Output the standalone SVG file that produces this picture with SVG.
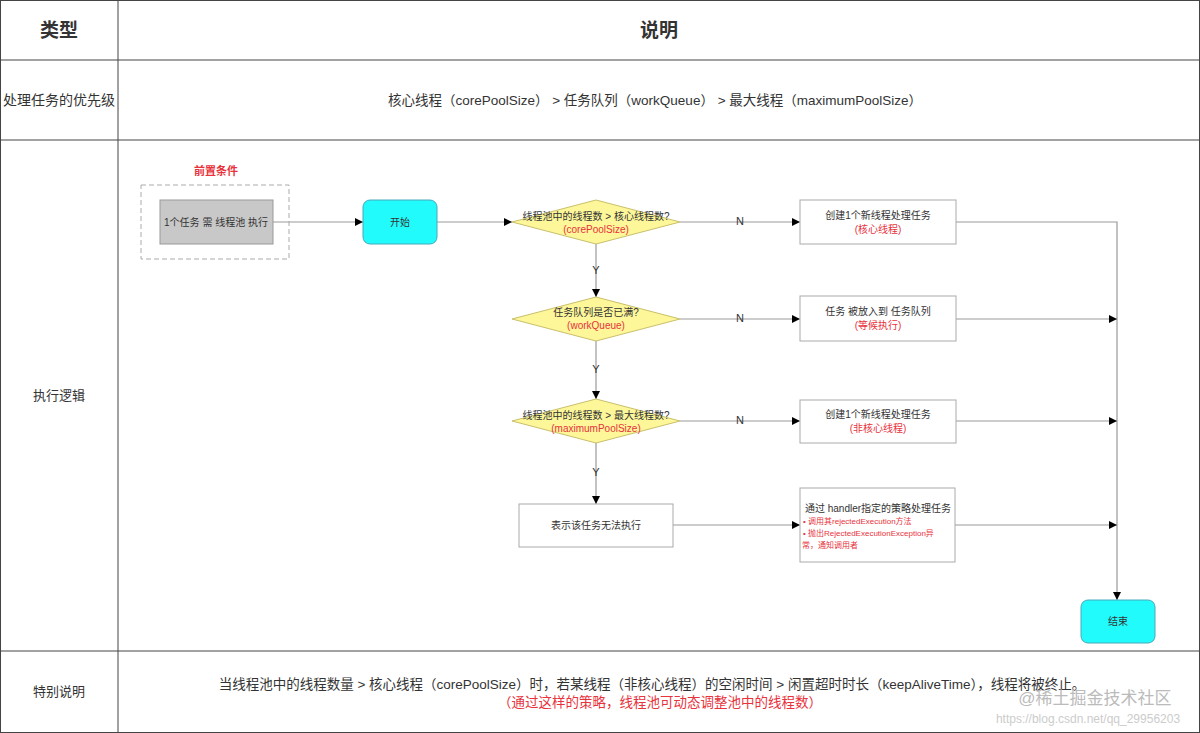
<svg xmlns="http://www.w3.org/2000/svg" width="1200" height="733" viewBox="0 0 1200 733">
<defs>
<marker id="a" viewBox="0 0 10 10" refX="10" refY="5" markerWidth="7" markerHeight="7" orient="auto"><path d="M0,0L10,5L0,10z" fill="#000"/></marker>
<style>
text{font-family:"Liberation Sans","Noto Sans CJK SC",sans-serif;text-anchor:middle;dominant-baseline:central;fill:#333}
.g{stroke:#444;stroke-width:1;fill:none}
.c{stroke:#999;stroke-width:1.2;fill:none;marker-end:url(#a)}
.s{font-size:10px}
.r{fill:#e8323c}
.b{stroke:#aaa;fill:#fff}
.d{fill:#fdf79a;stroke:#c9c06a}
</style>
</defs>
<rect width="1200" height="733" fill="#fff"/>
<g id="table">
<rect x="0.5" y="0.5" width="1199" height="732" class="g"/>
<path d="M0,60H1200M0,140H1200M0,651H1200M118,0V733" class="g"/>
<text x="59" y="30" font-size="19" font-weight="bold">类型</text>
<text x="659" y="30" font-size="19" font-weight="bold">说明</text>
<text x="59" y="100" font-size="14">处理任务的优先级</text>
<text x="655" y="100" font-size="13.5">核心线程（corePoolSize） &gt; 任务队列（workQueue） &gt; 最大线程（maximumPoolSize）</text>
<text x="59" y="395" font-size="13">执行逻辑</text>
<text x="59" y="691" font-size="13">特别说明</text>
<text x="652" y="684" font-size="13.5">当线程池中的线程数量 &gt; 核心线程（corePoolSize）时，若某线程（非核心线程）的空闲时间 &gt; 闲置超时时长（keepAliveTime），线程将被终止。</text>
<text x="660" y="702" font-size="13.5" class="r">（通过这样的策略，线程池可动态调整池中的线程数）</text>
<text x="1095" y="698" font-size="17" style="fill:#bbb">@稀土掘金技术社区</text>
<text x="1088" y="719" font-size="12" style="fill:#ccc">https://blog.csdn.net/qq_29956203</text>
</g>
<g id="connectors">
<path d="M273,222H363" class="c"/>
<path d="M437,222H512" class="c"/>
<path d="M680,222H800" class="c"/>
<path d="M680,319H800" class="c"/>
<path d="M680,421H800" class="c"/>
<path d="M596,244V297" class="c"/>
<path d="M596,341V399" class="c"/>
<path d="M596,443V504" class="c"/>
<path d="M673,525H800" class="c"/>
<path d="M956,222H1117V600" class="c"/>
<path d="M956,319H1117" class="c"/>
<path d="M956,421H1117" class="c"/>
<path d="M955,525H1117" class="c"/>
<g font-size="11"><text x="740" y="221">N</text><text x="740" y="318">N</text><text x="740" y="420">N</text>
<text x="596" y="270">Y</text><text x="596" y="369">Y</text><text x="596" y="472">Y</text></g>
</g>
<g id="pre">
<rect x="141" y="185" width="148" height="74" fill="none" stroke="#aaa" stroke-dasharray="5,3"/>
<text x="216" y="171" font-size="11" font-weight="bold" class="r">前置条件</text>
<rect x="160" y="200" width="113" height="44" fill="#c8c8c8" stroke="#999"/>
<text x="216" y="222" class="s">1个任务 需 线程池 执行</text>
</g>
<g id="start"><rect x="363" y="200" width="74" height="44" rx="7" fill="#22fbfb" stroke="#4ab"/><text x="400" y="222" class="s">开始</text></g>
<g id="d1"><path d="M512,222L596,200L680,222L596,244z" class="d"/><text x="596" y="216" class="s">线程池中的线程数 &gt; 核心线程数?</text><text x="596" y="229" class="s r">(corePoolSize)</text></g>
<g id="d2"><path d="M512,319L596,297L680,319L596,341z" class="d"/><text x="596" y="312" class="s">任务队列是否已满?</text><text x="596" y="325" class="s r">(workQueue)</text></g>
<g id="d3"><path d="M512,421L596,399L680,421L596,443z" class="d"/><text x="596" y="415" class="s">线程池中的线程数 &gt; 最大线程数?</text><text x="596" y="428" class="s r">(maximumPoolSize)</text></g>
<g id="n1"><rect x="800" y="200" width="156" height="44" class="b"/><text x="878" y="215" class="s">创建1个新线程处理任务</text><text x="878" y="229" class="s r">(核心线程)</text></g>
<g id="n2"><rect x="800" y="296" width="156" height="45" class="b"/><text x="878" y="311" class="s">任务 被放入到 任务队列</text><text x="878" y="325" class="s r">(等候执行)</text></g>
<g id="n3"><rect x="800" y="400" width="156" height="43" class="b"/><text x="878" y="414" class="s">创建1个新线程处理任务</text><text x="878" y="428" class="s r">(非核心线程)</text></g>
<g id="n4"><rect x="519" y="504" width="154" height="43" class="b"/><text x="596" y="525" class="s">表示该任务无法执行</text></g>
<g id="n5"><rect x="800" y="488" width="155" height="74" class="b"/>
<text x="878" y="508" class="s">通过 handler指定的策略处理任务</text>
<g font-size="8"><text x="803" y="521" class="r" style="text-anchor:start">• 调用其rejectedExecution方法</text><text x="803" y="533" class="r" style="text-anchor:start">• 抛出RejectedExecutionException异</text><text x="802" y="545" class="r" style="text-anchor:start">常，通知调用者</text></g></g>
<g id="end"><rect x="1081" y="600" width="74" height="43" rx="7" fill="#22fbfb" stroke="#4ab"/><text x="1118" y="621" class="s">结束</text></g>
</svg>
